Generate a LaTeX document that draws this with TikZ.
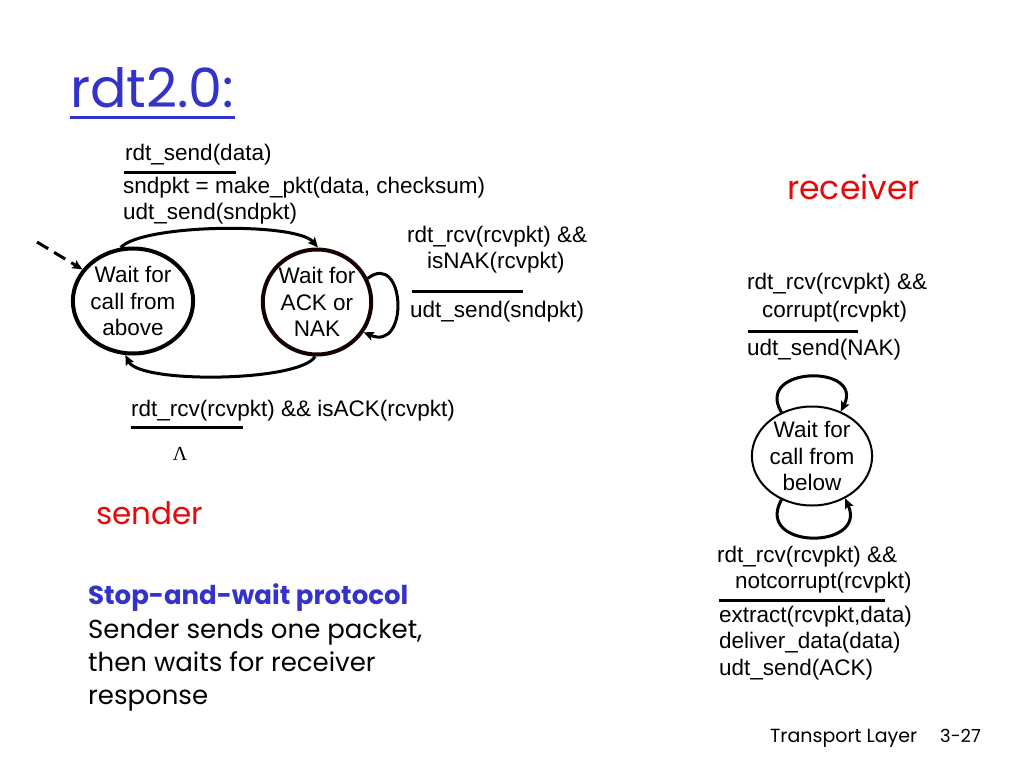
\documentclass[tikz,border=0pt]{standalone}
\usepackage{fontspec}
\setmainfont{Liberation Sans}
\newfontfamily\comic{Poppins}
\newfontfamily\serifface{Liberation Serif}
\usetikzlibrary{shapes.geometric,arrows.meta}
\definecolor{titleblue}{RGB}{51,51,204}
\definecolor{labelred}{RGB}{232,8,8}
\definecolor{darkrim}{RGB}{22,0,0}
\tikzset{
  lbl/.style={font=\fontsize{22.5}{26.5}\selectfont, inner sep=0pt, anchor=west, align=left},
  statebig/.style={ellipse, draw, line width=4pt, minimum width=107pt, minimum height=105pt, inner sep=0pt, align=center, font=\fontsize{22.5}{26.5}\selectfont},
  statesmall/.style={ellipse, draw, line width=2pt, minimum width=103pt, minimum height=99pt, inner sep=0pt, align=center, font=\fontsize{22.5}{26.5}\selectfont},
  arc/.style={line width=3pt, -{Stealth[length=10pt,width=9pt,inset=2pt]}},
  guard/.style={line width=3pt},
  initarrow/.style={line width=3pt, dash pattern=on 13pt off 7pt, -{Stealth[length=10pt,width=9pt,inset=2pt]}},
  comictext/.style={inner sep=0pt, anchor=base west, align=left},
  bodytext/.style={comictext, font=\comic\fontsize{26}{33}\selectfont},
}
\begin{document}
\begin{tikzpicture}[x=1pt,y=-1pt]
\fill[white] (0,0) rectangle (1024,768);
\useasboundingbox (0,0) rectangle (1024,768);

% title
\node[comictext, text=titleblue, font=\comic\fontsize{54}{60}\selectfont] (title) at (70,107) {rdt2.0:};
\draw[titleblue, line width=3pt] ([yshift=-10pt]title.base west) -- ([yshift=-10pt]title.base east);

% sender states
\node[statebig] (L) at (133,301) {Wait for\\call from\\above};
\node[statebig, draw=darkrim] (R) at (317,302) {Wait for\\ACK or\\NAK};
\coordinate (init) at (37,242);
\draw[initarrow] (init) -- (L.148);

% transitions sender
\draw[arc] (L.103) .. controls (142,224) and (296,222) .. (R.89);
\draw[arc] (R.268) .. controls (300,382) and (140,384) .. (L.262);
\draw[arc] (R.25) .. controls (405,250) and (410,352) .. (R.-33);

% sender labels
\node[lbl] (s1) at (125,155) {rdt\_send(data)};
\draw[guard] (124,172) -- (236,172);
\node[lbl] (s2) at (123,188) {sndpkt = make\_pkt(data, checksum)};
\node[lbl] (s3) at (123,214) {udt\_send(sndpkt)};

\node[lbl] (n1) at (407,237) {rdt\_rcv(rcvpkt) \&\&};
\node[lbl] (n2) at (427,263) {isNAK(rcvpkt)};
\draw[guard] (412,291) -- (523,291);
\node[lbl] (n3) at (410,312) {udt\_send(sndpkt)};

\node[lbl] (a1) at (131,411) {rdt\_rcv(rcvpkt) \&\& isACK(rcvpkt)};
\draw[guard] (131,427) -- (243,427);
\node[font=\serifface\fontsize{20}{24}\selectfont, inner sep=0pt] (lam) at (180,454) {Λ};

% receiver
\node[statesmall] (C) at (812,456) {Wait for\\call from\\below};
\draw[arc] (C.125) .. controls (754,366) and (864,364) .. (C.57);
\draw[arc] (C.235) .. controls (754,550) and (868,550) .. (C.-52);

\node[lbl] (r1) at (747,284) {rdt\_rcv(rcvpkt) \&\&};
\node[lbl] (r2) at (762,312) {corrupt(rcvpkt)};
\draw[guard] (748,331) -- (858,331);
\node[lbl] (r3) at (747,350) {udt\_send(NAK)};

\node[lbl] (r4) at (717,557) {rdt\_rcv(rcvpkt) \&\&};
\node[lbl] (r5) at (735,583) {notcorrupt(rcvpkt)};
\draw[guard] (719,600) -- (885,600);
\node[lbl] (r6) at (719,617) {extract(rcvpkt,data)};
\node[lbl] (r7) at (719,643) {deliver\_data(data)};
\node[lbl] (r8) at (719,670) {udt\_send(ACK)};

% headings
\node[comictext, text=labelred, font=\comic\fontsize{33}{38}\selectfont] (recv) at (787,199) {receiver};
\node[comictext, text=labelred, font=\comic\fontsize{31}{36}\selectfont] (send) at (96,524) {sender};

\node[comictext, text=titleblue, font=\comic\bfseries\fontsize{26}{33}\selectfont] (sw) at (88,604) {Stop-and-wait protocol};
\node[bodytext] (d1) at (88,638) {Sender sends one packet,};
\node[bodytext] (d2) at (88,671) {then waits for receiver};
\node[bodytext] (d3) at (88,704) {response};

\node[comictext, font=\comic\fontsize{19}{22}\selectfont] (foot1) at (770,742) {Transport Layer};
\node[comictext, font=\comic\fontsize{18}{22}\selectfont] (foot2) at (940,742) {3-27};
\end{tikzpicture}
\end{document}
